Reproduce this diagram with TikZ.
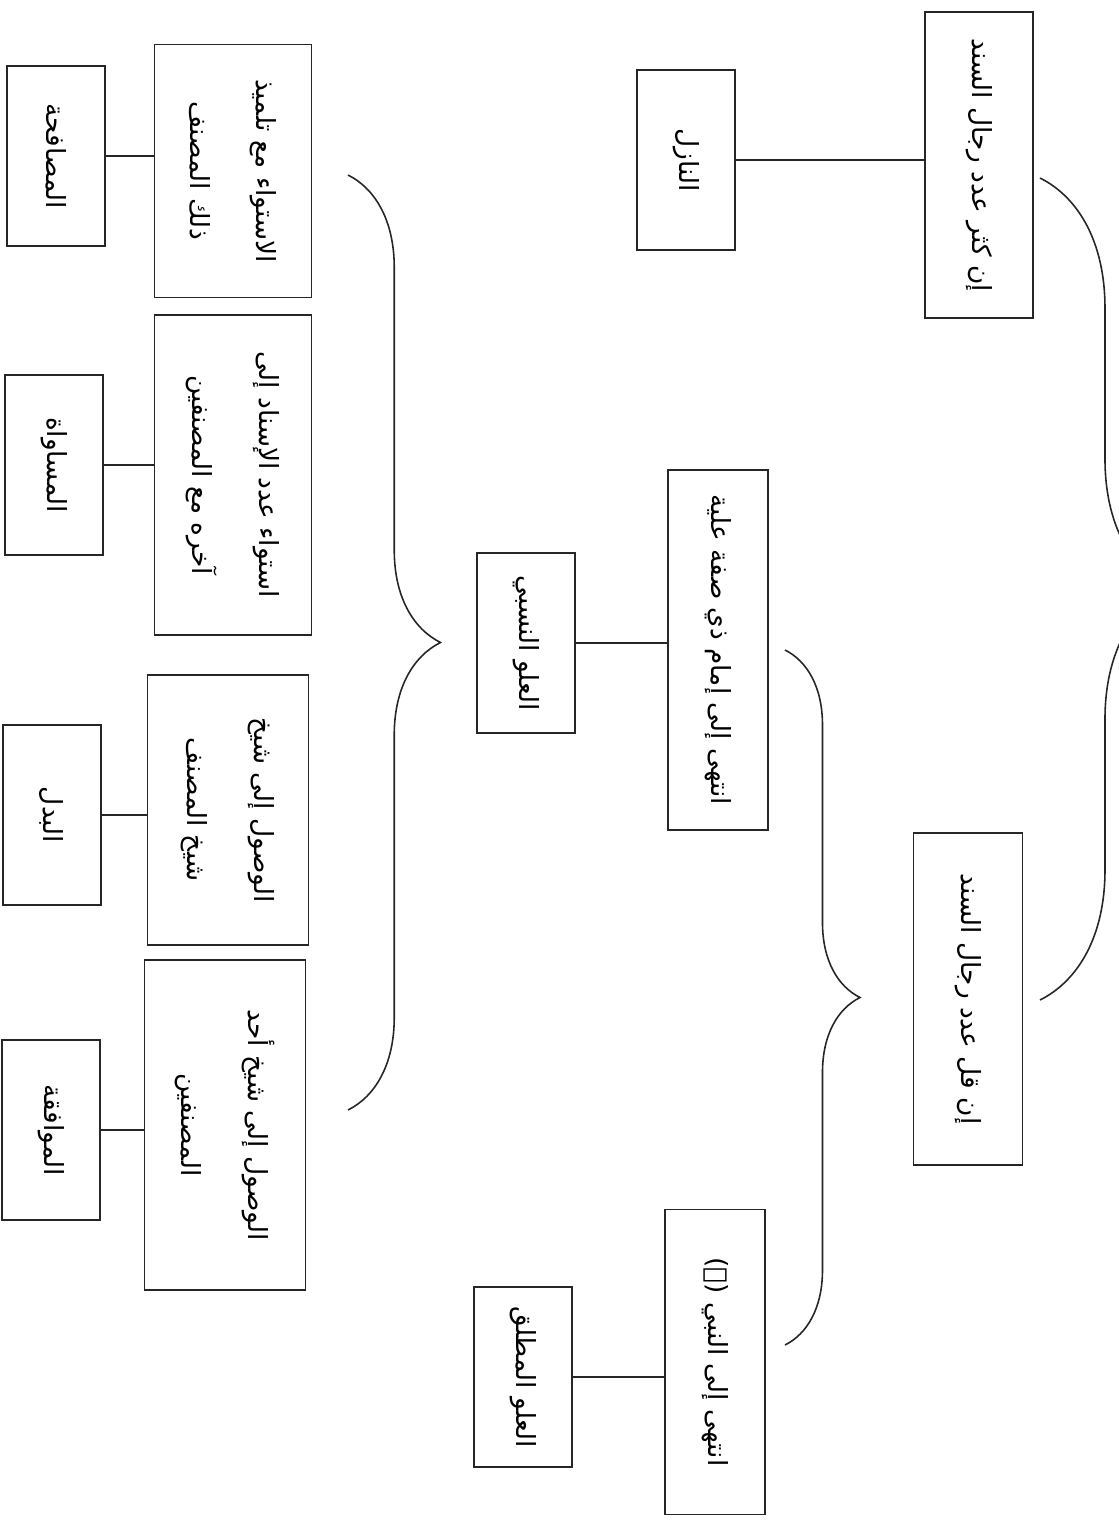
\documentclass[tikz,border=0pt]{standalone}
\usepackage{fontspec}
\newfontfamily\arabicfont[Script=Arabic]{DejaVu Sans}
\TeXXeTstate=1
\usepackage{tikz}
\usetikzlibrary{decorations.pathreplacing,calc}

\newcommand{\rl}[1]{\beginR #1\endR}

\begin{document}
\begin{tikzpicture}[x=0.02cm,y=-0.02cm,
      box/.style={draw=black!85,line width=0.9pt,rotate=-90,align=center,inner sep=2pt,
        font=\arabicfont\fontsize{15}{38}\selectfont},
      leaf/.style={box,minimum width=3.6cm,minimum height=1.95cm},
      conn/.style={draw=black!85,line width=0.9pt},
      curly/.style={draw=black!85,line width=0.9pt,decorate,decoration={brace,amplitude=#1}}]
    \useasboundingbox (0,0) rectangle (1119,1526);

    % right column
    \node[box,minimum width=6.12cm,minimum height=2.16cm] (kathra) at (979,165) {\rl{إن كثر عدد رجال السند}};
    \node[box,minimum width=6.64cm,minimum height=2.18cm] (qalla) at (968,999) {\rl{إن قل عدد رجال السند}};

    \node[leaf] (nazil) at (686,160) {\rl{النازل}};
    \node[box,minimum width=7.2cm,minimum height=2cm] (imam) at (718,650) {\rl{انتهى إلى إمام ذي صفة علية}};
    \node[box,minimum width=6.1cm,minimum height=2cm] (nabi) at (715,1362) {\rl{انتهى إلى النبي (ﷺ)}};

    \node[leaf] (nisbi) at (526,643) {\rl{العلو النسبي}};
    \node[leaf] (mutlaq) at (523,1377) {\rl{العلو المطلق}};

    % kinds of relative height
    \node[box,minimum width=5.06cm,minimum height=3.14cm] (s1) at (233,171) {\rl{الاستواء مع تلميذ}\\\rl{ذلك المصنف}};
    \node[box,minimum width=6.4cm,minimum height=3.14cm] (s2) at (233,475) {\rl{استواء عدد الإسناد إلى}\\\rl{آخره مع المصنفين}};
    \node[box,minimum width=5.4cm,minimum height=3.22cm] (s3) at (228,810) {\rl{الوصول إلى شيخ}\\\rl{شيخ المصنف}};
    \node[box,minimum width=6.6cm,minimum height=3.22cm] (s4) at (225,1125) {\rl{الوصول إلى شيخ أحد}\\\rl{المصنفين}};

    \node[leaf] (t1) at (56,156) {\rl{المصافحة}};
    \node[leaf] (t2) at (54,465) {\rl{المساواة}};
    \node[leaf] (t3) at (52,815) {\rl{البدل}};
    \node[leaf] (t4) at (51,1130) {\rl{الموافقة}};

    \draw[conn] (nazil.north) -- (nazil.north -| kathra.south);
    \draw[conn] (nisbi.north) -- (nisbi.north -| imam.south);
    \draw[conn] (mutlaq.north) -- (mutlaq.north -| nabi.south);
    \foreach \i in {1,...,4} {
      \draw[conn] (t\i.north) -- (t\i.north -| s\i.south);
    }

    % braces
    \coordinate (rtop) at (1040,178);
    \coordinate (rbot) at (1040,1000);
    \coordinate (mtop) at (785,650);
    \coordinate (mbot) at (785,1345);
    \coordinate (ltop) at (348,175);
    \coordinate (lbot) at (348,1110);
    \draw[curly=2.6cm] (rtop) -- (rbot);
    \draw[curly=1.5cm] (mtop) -- (mbot);
    \draw[curly=1.85cm] (ltop) -- (lbot);
  \end{tikzpicture}
\end{document}
